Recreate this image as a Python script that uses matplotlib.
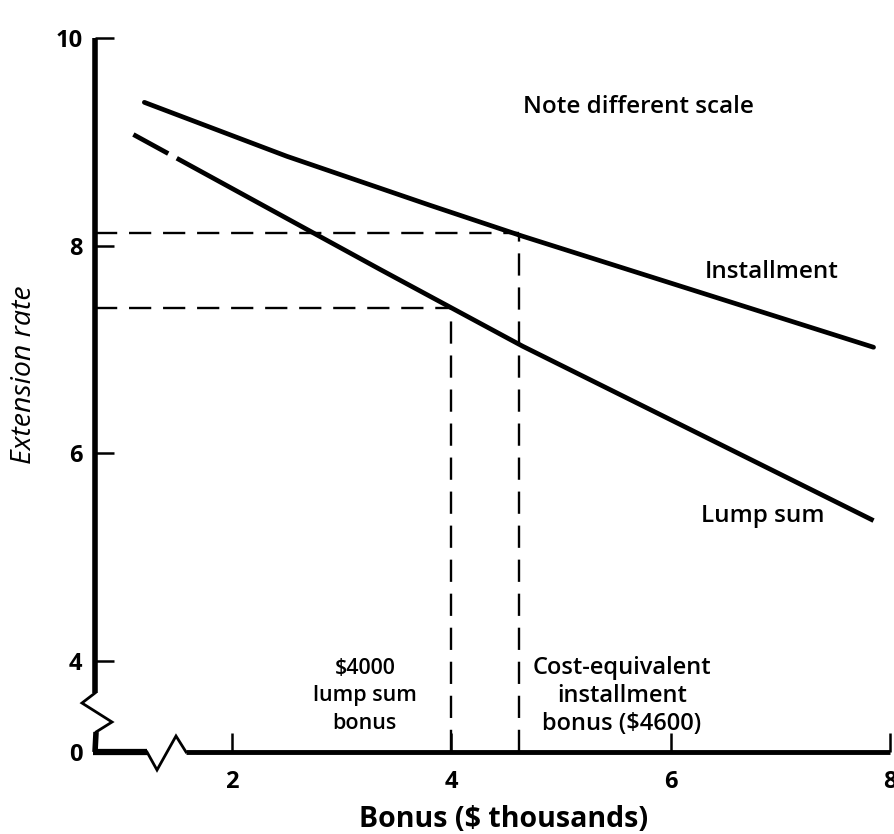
import matplotlib
matplotlib.use("Agg")
import matplotlib.pyplot as plt

# ---- data ----
inst_x = [1.2, 2.5, 3.8, 4.65, 7.85]
inst_y = [9.38, 8.86, 8.39, 8.09, 7.02]
lump_x = [1.1, 3.35, 4.0, 4.65, 7.85]
lump_y = [9.07, 7.77, 7.40, 7.03, 5.35]

lump_bonus, lump_rate = 4.0, 7.40
inst_bonus, inst_rate = 4.62, 8.12

x_ticks = [2, 4, 6, 8]
x_tick_labels = ["2", "4", "6", "8"]
y_ticks = [3.12, 4, 6, 8, 10]
y_tick_labels = ["0", "4", "6", "8", "10"]

plt.rcParams["font.family"] = ["Open Sans", "DejaVu Sans"]
plt.rcParams["lines.scale_dashes"] = False

fig = plt.figure(figsize=(8.94, 8.34), dpi=100)
ax = fig.add_axes([95 / 894, (834 - 752) / 834, 795 / 894, 714 / 834])
ax.set_xlim(0.75, 8.0)
ax.set_ylim(3.12, 10.0)
for s in ax.spines.values():
    s.set_visible(False)

# axis lines with break marks
kw = dict(transform=ax.transAxes, color="black", clip_on=False)
ax.plot([0, 0], [0.0826, 1.0], lw=4, solid_capstyle="butt", **kw)
ax.plot([0, -0.0164, 0.0214, 0.0013, 0.0], [0.0826, 0.0686, 0.042, 0.028, 0.0],
        lw=2, solid_joinstyle="miter", **kw)
ax.plot([0.0013, 0.0], [0.028, 0.0], lw=4, solid_capstyle="butt", **kw)
ax.plot([-0.002, 0.0654], [0, 0], lw=4.5, solid_capstyle="butt", **kw)
ax.plot([0.0654, 0.078, 0.1019, 0.1145], [0, -0.0252, 0.0224, 0], lw=2,
        solid_joinstyle="miter", **kw)
ax.plot([0.1145, 1.0], [0, 0], lw=3.5, solid_capstyle="butt", **kw)

# curves
ax.plot(inst_x, inst_y, color="black", lw=3.4, solid_capstyle="round")
ax.plot(lump_x, lump_y, color="black", lw=3.4, linestyle=(0, (28.6, 7, 3000, 1)),
        dash_capstyle="butt")

# dashed reference lines
dash = (0, (16, 8.5))
ymin = ax.get_ylim()[0]
xmin = ax.get_xlim()[0]
ax.plot([xmin, inst_bonus], [inst_rate, inst_rate], color="black", lw=1.7, linestyle=dash)
ax.plot([xmin, lump_bonus], [lump_rate, lump_rate], color="black", lw=1.7, linestyle=dash)
ax.plot([inst_bonus, inst_bonus], [ymin, inst_rate - 0.03], color="black", lw=1.7, linestyle=dash)
ax.plot([lump_bonus, lump_bonus], [ymin, lump_rate], color="black", lw=1.7, linestyle=dash)

# ticks
ax.set_xticks(x_ticks, x_tick_labels, fontweight="bold", fontsize=17)
ax.set_yticks(y_ticks, y_tick_labels, fontweight="bold", fontsize=17)
ax.tick_params(axis="both", direction="in", length=14, width=1.8, color="black")
ax.tick_params(axis="x", pad=13)
ax.tick_params(axis="y", pad=9)

# labels
ax.text(-0.0893, 0.528, "Extension rate", transform=ax.transAxes, rotation=90,
        ha="center", va="center", fontsize=20.5, style="italic")
ax.text(0.5145, -0.0952, "Bonus ($ thousands)", transform=ax.transAxes,
        ha="center", va="center", fontsize=20.5, fontweight="bold")

# annotations
tkw = dict(fontweight="semibold", color="black")
ax.text(4.652, 9.335, "Note different scale", ha="left", va="center", fontsize=17.5, **tkw)
ax.text(6.921, 7.746, "Installment", ha="center", va="center", fontsize=17.5, **tkw)
ax.text(6.839, 5.395, "Lump sum", ha="center", va="center", fontsize=17.5, **tkw)
ax.text(3.211, 3.66, "$4000\nlump sum\nbonus", ha="center", va="center",
        linespacing=1.38, fontsize=15.5, **tkw)
ax.text(5.554, 3.66, "Cost-equivalent\ninstallment\nbonus ($4600)", ha="center",
        va="center", linespacing=1.2, fontsize=17, **tkw)

fig.savefig("out.png", dpi=100)
